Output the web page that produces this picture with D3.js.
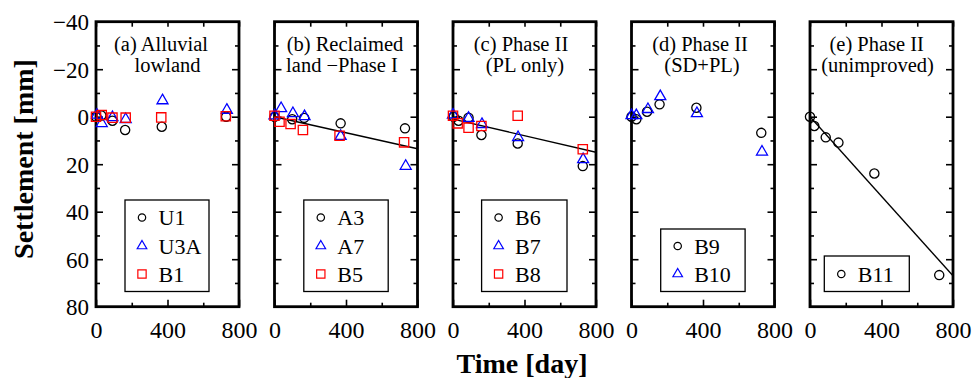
<!DOCTYPE html>
<html><head><meta charset="utf-8">
<script src="https://cdn.jsdelivr.net/npm/d3@7"></script>
<style>
body{margin:0;background:#fff}
svg{display:block}
text{font-family:"Liberation Serif","Times New Roman",serif;fill:#000}
</style>
</head><body>
<svg id="c" width="973" height="378"></svg>
<script>
// ---------- data ----------
const xTickValues = [0, 400, 800];
const xMinorTicks = [200, 600];
const yTickValues = [-40, -20, 0, 20, 40, 60, 80];
const yMinorTicks = [-30, -10, 10, 30, 50, 70];
const panelTitles = [
  ["(a) Alluvial", "lowland"],
  ["(b) Reclaimed", "land \u2212Phase I"],
  ["(c) Phase II", "(PL only)"],
  ["(d) Phase II", "(SD+PL)"],
  ["(e) Phase II", "(unimproved)"]
];
// [day, settlement mm]
const U1  = [[0,0],[30,-0.5],[92,1.7],[163,5.6],[368,4.2],[728,0]];
const U3A = [[5,-0.7],[32,2.8],[92,0.3],[166,1.1],[372,-6.8],[732,-2.8]];
const B1  = [[0,0],[32,-0.7],[92,0.4],[166,0.4],[365,0.3],[726,-0.2]];
const A3  = [[0,0],[99,1.1],[166,0.5],[370,2.8],[730,4.9]];
const A7  = [[0,-0.4],[37,-3.5],[103,-1.4],[168,-0.1],[370,8.2],[734,20.8]];
const B5  = [[0,-0.4],[28,2.1],[90,3.1],[159,5.6],[364,8.0],[725,10.8]];
const B6  = [[4,0],[31,1.7],[87,0.4],[159,7.7],[362,11.3],[726,20.8]];
const B7  = [[0,-0.8],[87,0.6],[162,3.2],[364,8.7],[728,18.0]];
const B8  = [[0,-0.4],[26,2.8],[87,4.6],[159,3.9],[362,-0.4],[726,13.7]];
const B9  = [[0,0],[27,1.1],[87,-2.1],[157,-5.2],[363,-3.8],[726,6.8]];
const B10 = [[0,-0.5],[27,-0.5],[92,-3.1],[161,-8.5],[366,-1.4],[730,14.8]];
const B11 = [[0,0],[24,3.9],[88,8.7],[159,10.9],[360,23.9],[723,66.7]];
const fitB = [[0,0],[800,13.5]];
const fitC = [[0,1],[800,15]];
const fitE = [[0,0],[800,67]];

// ---------- layout ----------
const panels = [
  {series:[{n:"U1",d:U1,s:"circle"},{n:"U3A",d:U3A,s:"triangle"},{n:"B1",d:B1,s:"square"}], fit:null,
   leg:{dx:29,w:84,top:200}, tx:[161,167.5]},
  {series:[{n:"A3",d:A3,s:"circle"},{n:"A7",d:A7,s:"triangle"},{n:"B5",d:B5,s:"square"}], fit:fitB,
   leg:{dx:29.3,w:84.4,top:200}, tx:[345,342]},
  {series:[{n:"B6",d:B6,s:"circle"},{n:"B7",d:B7,s:"triangle"},{n:"B8",d:B8,s:"square"}], fit:fitC,
   leg:{dx:28.6,w:85.4,top:200}, tx:[521,525]},
  {series:[{n:"B9",d:B9,s:"circle"},{n:"B10",d:B10,s:"triangle"}], fit:null,
   leg:{dx:29.2,w:84.4,top:229}, tx:[700,702]},
  {series:[{n:"B11",d:B11,s:"circle"}], fit:fitE,
   leg:{dx:14.3,w:85,top:256}, tx:[876.7,877.5]}
];
const colors = {circle:"#000000", triangle:"#0000ff", square:"#ff0000"};
const symType = {circle:d3.symbolCircle, triangle:d3.symbolTriangle, square:d3.symbolSquare};
const dataSize = {circle:Math.PI*4.6*4.6, triangle:0.433*11*11, square:9.3*9.3};
const legSize  = {circle:Math.PI*3.7*3.7, triangle:0.433*9.6*9.6, square:8.3*8.3};
const rowY = [217.5, 246, 274];

const svg = d3.select("#c");
const W = 143, TOP = 21.7, BOT = 306.7;
const y = d3.scaleLinear().domain([-40, 80]).range([TOP, BOT]);

function styleAxis(g, fs){
  g.attr("font-family", null).attr("font-size", null);
  g.select(".domain").remove();
  g.selectAll(".tick line").attr("stroke","#000").attr("stroke-width",1.6);
  g.selectAll(".tick text").style("font-size", fs+"px");
}

panels.forEach((p, i) => {
  const L = 96 + i*178.5;
  const x = d3.scaleLinear().domain([0, 800]).range([L, L+W]);
  const g = svg.append("g");
  const cid = "clip"+i;
  svg.append("clipPath").attr("id", cid).append("rect")
    .attr("x", L).attr("y", TOP).attr("width", W).attr("height", BOT-TOP);

  // axes ticks (inside)
  const bMaj = g.append("g").attr("transform",`translate(0,${BOT})`)
    .call(d3.axisBottom(x).tickValues(xTickValues).tickSize(-7).tickPadding(14).tickFormat(d3.format("d")));
  styleAxis(bMaj, 24);
  const bMin = g.append("g").attr("transform",`translate(0,${BOT})`)
    .call(d3.axisBottom(x).tickValues(xMinorTicks).tickSize(-4).tickFormat(""));
  styleAxis(bMin, 24);
  const tMaj = g.append("g").attr("transform",`translate(0,${TOP})`)
    .call(d3.axisTop(x).tickValues(xTickValues).tickSize(-5).tickFormat(""));
  styleAxis(tMaj, 24);
  const tMin = g.append("g").attr("transform",`translate(0,${TOP})`)
    .call(d3.axisTop(x).tickValues(xMinorTicks).tickSize(-5).tickFormat(""));
  styleAxis(tMin, 24);

  const lMaj = g.append("g").attr("transform",`translate(${L},0)`)
    .call(d3.axisLeft(y).tickValues(yTickValues).tickSize(-7).tickPadding(7)
      .tickFormat(i === 0 ? d3.format("d") : ""));
  styleAxis(lMaj, 23);
  lMaj.selectAll(".tick text").attr("dy","0.36em");
  const lMin = g.append("g").attr("transform",`translate(${L},0)`)
    .call(d3.axisLeft(y).tickValues(yMinorTicks).tickSize(-4).tickFormat(""));
  styleAxis(lMin, 23);
  const rMaj = g.append("g").attr("transform",`translate(${L+W},0)`)
    .call(d3.axisRight(y).tickValues(yTickValues).tickSize(-7).tickFormat(""));
  styleAxis(rMaj, 23);
  const rMin = g.append("g").attr("transform",`translate(${L+W},0)`)
    .call(d3.axisRight(y).tickValues(yMinorTicks).tickSize(-4).tickFormat(""));
  styleAxis(rMin, 23);

  // frame
  g.append("rect").attr("x", L).attr("y", TOP).attr("width", W).attr("height", BOT-TOP)
    .attr("fill","none").attr("stroke","#000").attr("stroke-width",2.8);

  // title
  const t = panelTitles[i];
  g.append("text").attr("x", p.tx[0]).attr("y", 51).attr("text-anchor","middle")
    .style("font-size","20.5px").text(t[0]);
  g.append("text").attr("x", p.tx[1]).attr("y", 72).attr("text-anchor","middle")
    .style("font-size","20.5px").text(t[1]);

  // fit line
  if (p.fit) {
    g.append("path").datum(p.fit).attr("clip-path",`url(#${cid})`)
      .attr("d", d3.line().x(d=>x(d[0])).y(d=>y(d[1])))
      .attr("fill","none").attr("stroke","#000").attr("stroke-width",1.4);
  }

  // markers
  p.series.forEach(s => {
    g.append("g").selectAll("path").data(s.d).join("path")
      .attr("transform", d => `translate(${x(d[0])},${y(d[1])})`)
      .attr("d", d3.symbol(symType[s.s], dataSize[s.s]))
      .attr("fill","none").attr("stroke", colors[s.s]).attr("stroke-width",1.3);
  });

  // legend
  const n = p.series.length;
  const lx = L + p.leg.dx;
  const lg = g.append("g");
  lg.append("rect").attr("x", lx).attr("y", p.leg.top).attr("width", p.leg.w)
    .attr("height", 291.5 - p.leg.top).attr("fill","#fff").attr("stroke","#000").attr("stroke-width",1.3);
  p.series.forEach((s, k) => {
    const ry = rowY[3 - n + k];
    lg.append("path").attr("transform",`translate(${lx+17},${ry})`)
      .attr("d", d3.symbol(symType[s.s], legSize[s.s]))
      .attr("fill","none").attr("stroke", colors[s.s]).attr("stroke-width",1.2);
    lg.append("text").attr("x", lx+33.5).attr("y", ry).attr("dy","0.35em")
      .style("font-size","22px").text(s.n);
  });
});

// axis titles
svg.append("text").attr("transform","translate(33,159) rotate(-90)")
  .attr("text-anchor","middle").style("font-size","28px").style("font-weight","bold")
  .text("Settlement [mm]");
svg.append("text").attr("x", 522).attr("y", 373).attr("text-anchor","middle")
  .style("font-size","28px").style("font-weight","bold").text("Time [day]");
</script>
</body></html>
